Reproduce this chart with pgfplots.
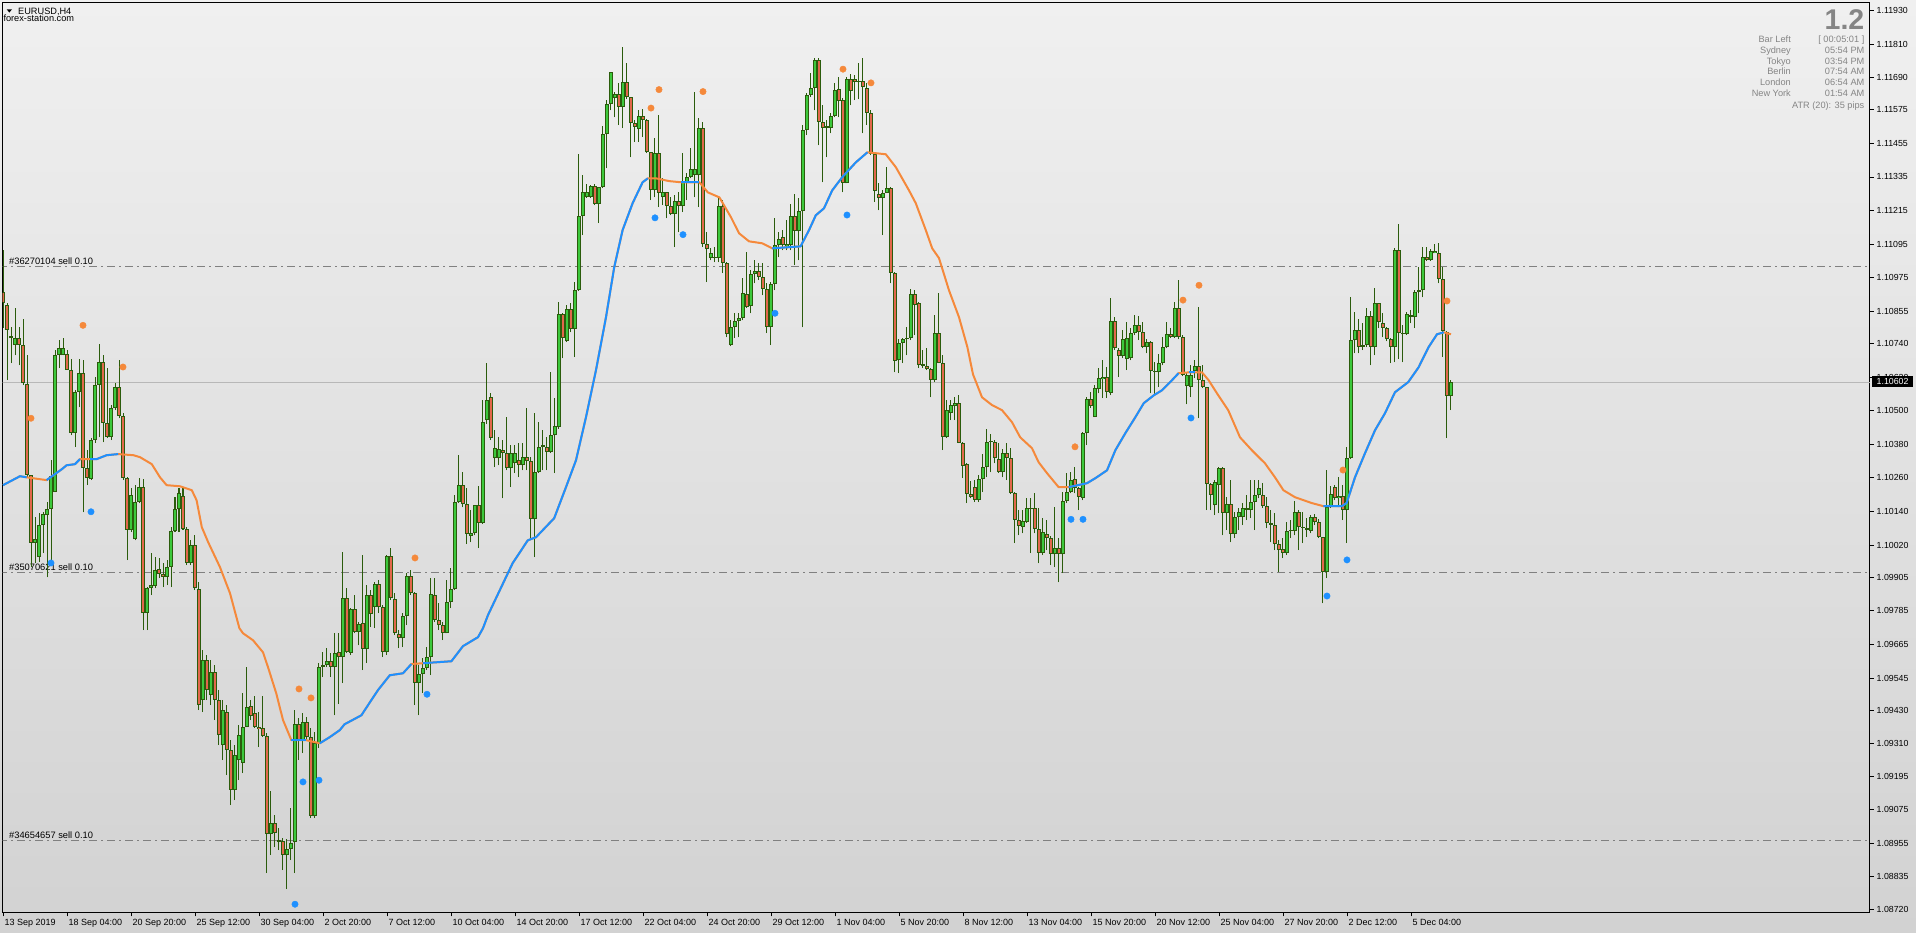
\documentclass[border=0pt]{standalone}
\usepackage{fontspec}
\setmainfont{Liberation Sans}
\usepackage{pgfplots}
\pgfplotsset{compat=1.18}
\usepackage{pgfplotstable}
\definecolor{wickc}{HTML}{2B5C0C}
\definecolor{bullc}{HTML}{3CC83C}
\definecolor{bearc}{HTML}{E2684C}
\definecolor{mablue}{HTML}{1E90FF}
\definecolor{maorange}{HTML}{F5893B}
\definecolor{bgtop}{HTML}{F0F0F0}
\definecolor{bgbot}{HTML}{D2D2D2}
\definecolor{infogray}{HTML}{858585}
\definecolor{ordergray}{HTML}{808080}
\definecolor{pricegray}{HTML}{B8B8B8}

\pgfplotstableread{
i o h l c
0 1.10923 1.11073 1.10795 1.10884
1 1.10877 1.10884 1.10609 1.10787
2 1.10759 1.10798 1.10670 1.10766
3 1.10734 1.10866 1.10698 1.10759
4 1.10759 1.10798 1.10662 1.10734
5 1.10734 1.10827 1.10591 1.10598
6 1.10595 1.10698 1.10262 1.10270
7 1.10270 1.10270 1.09941 1.10027
8 1.10027 1.10120 1.09955 1.10041
9 1.09977 1.10134 1.09959 1.10091
10 1.10091 1.10137 1.09991 1.10130
11 1.10127 1.10173 1.09905 1.10148
12 1.10148 1.10323 1.09955 1.10266
13 1.10209 1.10716 1.10209 1.10698
14 1.10698 1.10752 1.10652 1.10723
15 1.10698 1.10759 1.10698 1.10723
16 1.10702 1.10716 1.10645 1.10645
17 1.10645 1.10684 1.10412 1.10420
18 1.10420 1.10573 1.10370 1.10566
19 1.10566 1.10684 1.10512 1.10634
20 1.10634 1.10680 1.10137 1.10295
21 1.10295 1.10359 1.10234 1.10259
22 1.10255 1.10402 1.10252 1.10395
23 1.10395 1.10620 1.10384 1.10591
24 1.10591 1.10737 1.10405 1.10673
25 1.10673 1.10698 1.10387 1.10455
26 1.10455 1.10652 1.10402 1.10405
27 1.10405 1.10520 1.10395 1.10509
28 1.10509 1.10598 1.10502 1.10584
29 1.10584 1.10680 1.10473 1.10480
30 1.10480 1.10491 1.10252 1.10259
31 1.10259 1.10262 1.09966 1.10073
32 1.10073 1.10223 1.10066 1.10198
33 1.10041 1.10234 1.10037 1.10173
34 1.10173 1.10259 1.10170 1.10227
35 1.10227 1.10255 1.09716 1.09777
36 1.09777 1.09870 1.09716 1.09866
37 1.09866 1.09991 1.09841 1.09877
38 1.09873 1.09977 1.09866 1.09930
39 1.09934 1.09973 1.09902 1.09916
40 1.09916 1.09955 1.09870 1.09905
41 1.09905 1.09966 1.09877 1.09941
42 1.09941 1.10084 1.09870 1.10070
43 1.10070 1.10191 1.10066 1.10148
44 1.10148 1.10223 1.10066 1.10205
45 1.10195 1.10223 1.10073 1.10077
46 1.10077 1.10084 1.09948 1.09955
47 1.09955 1.10037 1.09948 1.10020
48 1.10020 1.10055 1.09859 1.09866
49 1.09862 1.09887 1.09430 1.09448
50 1.09466 1.09645 1.09423 1.09609
51 1.09609 1.09627 1.09466 1.09502
52 1.09484 1.09609 1.09448 1.09566
53 1.09566 1.09591 1.09395 1.09466
54 1.09466 1.09502 1.09305 1.09341
55 1.09305 1.09466 1.09252 1.09430
56 1.09423 1.09448 1.09198 1.09287
57 1.09287 1.09323 1.09091 1.09145
58 1.09145 1.09305 1.09109 1.09270
59 1.09252 1.09377 1.09180 1.09341
60 1.09241 1.09491 1.09205 1.09370
61 1.09370 1.09584 1.09370 1.09441
62 1.09445 1.09466 1.09395 1.09409
63 1.09420 1.09480 1.09366 1.09370
64 1.09370 1.09423 1.09298 1.09362
65 1.09366 1.09480 1.09334 1.09337
66 1.09337 1.09348 1.08848 1.08987
67 1.08987 1.09141 1.08912 1.09027
68 1.09027 1.09055 1.08941 1.08991
69 1.08966 1.09009 1.08930 1.08959
70 1.08962 1.08973 1.08859 1.08912
71 1.08912 1.08970 1.08791 1.08934
72 1.08934 1.09080 1.08895 1.08955
73 1.08959 1.09430 1.08848 1.09380
74 1.09380 1.09402 1.09252 1.09320
75 1.09320 1.09420 1.09277 1.09387
76 1.09387 1.09405 1.09323 1.09334
77 1.09334 1.09366 1.09045 1.09052
78 1.09052 1.09352 1.09045 1.09312
79 1.09312 1.09598 1.09295 1.09584
80 1.09584 1.09637 1.09548 1.09591
81 1.09591 1.09652 1.09584 1.09605
82 1.09605 1.09634 1.09548 1.09584
83 1.09584 1.09705 1.09412 1.09634
84 1.09637 1.09705 1.09452 1.09620
85 1.09620 1.09995 1.09527 1.09830
86 1.09830 1.09866 1.09634 1.09637
87 1.09634 1.09795 1.09627 1.09791
88 1.09791 1.09841 1.09705 1.09709
89 1.09709 1.09745 1.09662 1.09737
90 1.09741 1.09984 1.09573 1.09648
91 1.09648 1.09877 1.09598 1.09841
92 1.09841 1.09859 1.09727 1.09773
93 1.09798 1.09887 1.09723 1.09880
94 1.09880 1.09895 1.09777 1.09798
95 1.09798 1.09805 1.09620 1.09637
96 1.09637 1.09984 1.09627 1.09980
97 1.09980 1.10009 1.09823 1.09830
98 1.09827 1.09848 1.09698 1.09705
99 1.09702 1.09716 1.09652 1.09687
100 1.09687 1.09777 1.09655 1.09766
101 1.09766 1.09920 1.09734 1.09909
102 1.09909 1.09930 1.09841 1.09848
103 1.09848 1.09852 1.09448 1.09527
104 1.09527 1.09591 1.09412 1.09559
105 1.09559 1.09616 1.09491 1.09580
106 1.09580 1.09655 1.09573 1.09620
107 1.09620 1.09902 1.09555 1.09845
108 1.09841 1.09902 1.09745 1.09752
109 1.09752 1.09812 1.09716 1.09734
110 1.09734 1.09745 1.09680 1.09705
111 1.09705 1.09895 1.09705 1.09816
112 1.09816 1.09937 1.09795 1.09862
113 1.09862 1.10198 1.09859 1.10173
114 1.10173 1.10341 1.10170 1.10234
115 1.10234 1.10280 1.10155 1.10166
116 1.10166 1.10223 1.10023 1.10059
117 1.10052 1.10145 1.10030 1.10062
118 1.10062 1.10162 1.10055 1.10162
119 1.10162 1.10230 1.10009 1.10098
120 1.10098 1.10537 1.10095 1.10459
121 1.10466 1.10670 1.10452 1.10537
122 1.10548 1.10562 1.10395 1.10402
123 1.10330 1.10430 1.10298 1.10366
124 1.10330 1.10405 1.10305 1.10362
125 1.10359 1.10395 1.10187 1.10348
126 1.10348 1.10477 1.10287 1.10295
127 1.10295 1.10377 1.10227 1.10348
128 1.10312 1.10377 1.10277 1.10348
129 1.10323 1.10384 1.10262 1.10305
130 1.10305 1.10384 1.10287 1.10334
131 1.10334 1.10509 1.10287 1.10320
132 1.10320 1.10334 1.10037 1.10112
133 1.10112 1.10491 1.09977 1.10280
134 1.10280 1.10459 1.10277 1.10370
135 1.10370 1.10430 1.10287 1.10377
136 1.10370 1.10405 1.10287 1.10352
137 1.10352 1.10637 1.10348 1.10412
138 1.10412 1.10545 1.10277 1.10445
139 1.10441 1.10887 1.10434 1.10845
140 1.10845 1.10848 1.10687 1.10759
141 1.10748 1.10877 1.10745 1.10862
142 1.10862 1.10884 1.10780 1.10791
143 1.10791 1.10959 1.10691 1.10930
144 1.10930 1.11416 1.10927 1.11195
145 1.11195 1.11341 1.11127 1.11280
146 1.11262 1.11309 1.11259 1.11280
147 1.11262 1.11305 1.11259 1.11302
148 1.11302 1.11309 1.11234 1.11237
149 1.11237 1.11298 1.11170 1.11298
150 1.11298 1.11516 1.11295 1.11487
151 1.11487 1.11609 1.11366 1.11595
152 1.11595 1.11709 1.11573 1.11709
153 1.11616 1.11637 1.11548 1.11630
154 1.11630 1.11670 1.11520 1.11584
155 1.11584 1.11798 1.11509 1.11673
156 1.11673 1.11741 1.11612 1.11620
157 1.11620 1.11620 1.11405 1.11527
158 1.11527 1.11537 1.11459 1.11512
159 1.11505 1.11573 1.11459 1.11552
160 1.11552 1.11577 1.11477 1.11537
161 1.11537 1.11541 1.11420 1.11423
162 1.11423 1.11423 1.11252 1.11287
163 1.11287 1.11473 1.11262 1.11420
164 1.11420 1.11555 1.11227 1.11277
165 1.11262 1.11330 1.11234 1.11280
166 1.11280 1.11280 1.11187 1.11230
167 1.11230 1.11262 1.11198 1.11202
168 1.11202 1.11270 1.11084 1.11248
169 1.11248 1.11280 1.11137 1.11230
170 1.11230 1.11420 1.11209 1.11316
171 1.11316 1.11348 1.11252 1.11334
172 1.11334 1.11437 1.11330 1.11362
173 1.11341 1.11637 1.11262 1.11362
174 1.11341 1.11545 1.11227 1.11509
175 1.11509 1.11530 1.11084 1.11095
176 1.11095 1.11137 1.10959 1.11077
177 1.11045 1.11080 1.11037 1.11062
178 1.11045 1.11084 1.11030 1.11048
179 1.11045 1.11259 1.11030 1.11230
180 1.11230 1.11252 1.10991 1.11027
181 1.11027 1.11030 1.10762 1.10773
182 1.10734 1.10823 1.10730 1.10798
183 1.10798 1.10848 1.10759 1.10820
184 1.10820 1.10848 1.10762 1.10830
185 1.10830 1.10973 1.10823 1.10920
186 1.10916 1.11066 1.10866 1.10870
187 1.10873 1.11002 1.10848 1.10987
188 1.10987 1.11037 1.10955 1.10998
189 1.10998 1.11027 1.10966 1.10977
190 1.10977 1.11027 1.10912 1.10934
191 1.10934 1.10955 1.10777 1.10798
192 1.10798 1.10959 1.10734 1.10952
193 1.10952 1.11187 1.10930 1.11091
194 1.11091 1.11137 1.11048 1.11112
195 1.11120 1.11145 1.11073 1.11091
196 1.11087 1.11180 1.11073 1.11095
197 1.11091 1.11237 1.11073 1.11195
198 1.11195 1.11273 1.11020 1.11141
199 1.11141 1.11259 1.11037 1.11212
200 1.11212 1.11520 1.10798 1.11502
201 1.11502 1.11634 1.11484 1.11627
202 1.11627 1.11705 1.11620 1.11652
203 1.11652 1.11759 1.11573 1.11752
204 1.11752 1.11759 1.11448 1.11530
205 1.11530 1.11591 1.11316 1.11509
206 1.11509 1.11537 1.11405 1.11516
207 1.11509 1.11562 1.11491 1.11552
208 1.11552 1.11670 1.11548 1.11645
209 1.11648 1.11691 1.11548 1.11605
210 1.11609 1.11616 1.11280 1.11312
211 1.11312 1.11691 1.11312 1.11684
212 1.11684 1.11702 1.11591 1.11641
213 1.11684 1.11698 1.11609 1.11673
214 1.11673 1.11741 1.11612 1.11677
215 1.11677 1.11759 1.11491 1.11655
216 1.11652 1.11670 1.11520 1.11562
217 1.11562 1.11573 1.11412 1.11416
218 1.11416 1.11423 1.11245 1.11284
219 1.11273 1.11312 1.11216 1.11259
220 1.11259 1.11287 1.11127 1.11277
221 1.11277 1.11370 1.11277 1.11295
222 1.11295 1.11298 1.10955 1.10991
223 1.10991 1.10995 1.10637 1.10677
224 1.10680 1.10755 1.10634 1.10741
225 1.10741 1.10759 1.10670 1.10755
226 1.10755 1.10798 1.10698 1.10759
227 1.10759 1.10934 1.10752 1.10916
228 1.10916 1.10930 1.10770 1.10877
229 1.10884 1.10887 1.10652 1.10662
230 1.10666 1.10716 1.10652 1.10659
231 1.10659 1.10723 1.10645 1.10648
232 1.10648 1.10652 1.10548 1.10609
233 1.10609 1.10841 1.10602 1.10777
234 1.10777 1.10920 1.10670 1.10670
235 1.10670 1.10698 1.10359 1.10405
236 1.10405 1.10537 1.10402 1.10502
237 1.10491 1.10537 1.10466 1.10520
238 1.10516 1.10548 1.10466 1.10527
239 1.10527 1.10555 1.10384 1.10384
240 1.10384 1.10387 1.10259 1.10302
241 1.10309 1.10312 1.10170 1.10202
242 1.10202 1.10248 1.10187 1.10191
243 1.10227 1.10252 1.10173 1.10180
244 1.10180 1.10270 1.10173 1.10255
245 1.10255 1.10345 1.10209 1.10298
246 1.10298 1.10434 1.10262 1.10387
247 1.10391 1.10416 1.10280 1.10387
248 1.10387 1.10395 1.10312 1.10330
249 1.10327 1.10384 1.10277 1.10280
250 1.10280 1.10362 1.10262 1.10348
251 1.10348 1.10384 1.10252 1.10330
252 1.10330 1.10366 1.10202 1.10205
253 1.10205 1.10209 1.10027 1.10109
254 1.10109 1.10145 1.10055 1.10087
255 1.10084 1.10145 1.10062 1.10105
256 1.10102 1.10187 1.10098 1.10152
257 1.10152 1.10187 1.09991 1.10148
258 1.10152 1.10205 1.10062 1.10077
259 1.10077 1.10152 1.09955 1.09991
260 1.09991 1.10116 1.09984 1.10066
261 1.10059 1.10109 1.10002 1.10045
262 1.10045 1.10052 1.09948 1.09987
263 1.09987 1.10155 1.09941 1.10009
264 1.10009 1.10045 1.09887 1.09987
265 1.09987 1.10209 1.09920 1.10177
266 1.10177 1.10277 1.10170 1.10209
267 1.10209 1.10280 1.10205 1.10252
268 1.10255 1.10298 1.10205 1.10223
269 1.10223 1.10227 1.10145 1.10191
270 1.10187 1.10423 1.10180 1.10420
271 1.10420 1.10548 1.10377 1.10541
272 1.10541 1.10566 1.10509 1.10516
273 1.10477 1.10591 1.10477 1.10580
274 1.10577 1.10652 1.10562 1.10616
275 1.10612 1.10680 1.10545 1.10620
276 1.10620 1.10655 1.10545 1.10566
277 1.10562 1.10902 1.10555 1.10820
278 1.10820 1.10834 1.10716 1.10723
279 1.10716 1.10723 1.10620 1.10695
280 1.10695 1.10787 1.10687 1.10755
281 1.10684 1.10816 1.10645 1.10759
282 1.10687 1.10795 1.10680 1.10777
283 1.10777 1.10841 1.10770 1.10805
284 1.10805 1.10837 1.10752 1.10780
285 1.10780 1.10816 1.10723 1.10727
286 1.10727 1.10755 1.10705 1.10745
287 1.10745 1.10748 1.10562 1.10641
288 1.10641 1.10673 1.10555 1.10637
289 1.10637 1.10702 1.10584 1.10670
290 1.10670 1.10762 1.10662 1.10727
291 1.10727 1.10816 1.10723 1.10773
292 1.10773 1.10795 1.10759 1.10762
293 1.10762 1.10887 1.10759 1.10866
294 1.10866 1.10966 1.10755 1.10762
295 1.10762 1.10770 1.10623 1.10627
296 1.10587 1.10634 1.10523 1.10627
297 1.10584 1.10662 1.10548 1.10627
298 1.10641 1.10680 1.10616 1.10659
299 1.10659 1.10870 1.10473 1.10609
300 1.10609 1.10662 1.10580 1.10584
301 1.10584 1.10584 1.10145 1.10237
302 1.10237 1.10241 1.10145 1.10198
303 1.10162 1.10252 1.10127 1.10245
304 1.10234 1.10298 1.10134 1.10295
305 1.10295 1.10298 1.10055 1.10134
306 1.10134 1.10191 1.10073 1.10166
307 1.10166 1.10252 1.10030 1.10059
308 1.10059 1.10137 1.10045 1.10120
309 1.10120 1.10152 1.10073 1.10137
310 1.10120 1.10170 1.10091 1.10152
311 1.10145 1.10198 1.10109 1.10152
312 1.10145 1.10252 1.10116 1.10173
313 1.10173 1.10252 1.10073 1.10198
314 1.10198 1.10252 1.10187 1.10223
315 1.10198 1.10241 1.10152 1.10159
316 1.10159 1.10191 1.10080 1.10098
317 1.10098 1.10145 1.10030 1.10091
318 1.10091 1.10134 1.10002 1.10023
319 1.10023 1.10037 1.09923 1.10002
320 1.10005 1.10045 1.09973 1.09991
321 1.09991 1.10102 1.09984 1.10070
322 1.10070 1.10109 1.10045 1.10073
323 1.10070 1.10177 1.10055 1.10137
324 1.10137 1.10145 1.10002 1.10084
325 1.10084 1.10137 1.10027 1.10080
326 1.10073 1.10116 1.10048 1.10080
327 1.10070 1.10127 1.10062 1.10120
328 1.10120 1.10130 1.10091 1.10102
329 1.10102 1.10113 1.10045 1.10048
330 1.10048 1.10048 1.09812 1.09923
331 1.09923 1.10287 1.09902 1.10155
332 1.10155 1.10230 1.10152 1.10202
333 1.10227 1.10234 1.10180 1.10187
334 1.10187 1.10262 1.10155 1.10195
335 1.10195 1.10234 1.10109 1.10145
336 1.10145 1.10370 1.10027 1.10330
337 1.10330 1.10905 1.10327 1.10752
338 1.10752 1.10852 1.10705 1.10787
339 1.10787 1.10827 1.10705 1.10727
340 1.10727 1.10812 1.10716 1.10734
341 1.10734 1.10866 1.10727 1.10837
342 1.10837 1.10855 1.10662 1.10727
343 1.10727 1.10937 1.10698 1.10884
344 1.10884 1.10884 1.10795 1.10816
345 1.10812 1.10848 1.10762 1.10795
346 1.10795 1.10798 1.10748 1.10755
347 1.10755 1.10759 1.10670 1.10727
348 1.10727 1.11080 1.10673 1.11073
349 1.11073 1.11166 1.10684 1.10777
350 1.10773 1.10805 1.10673 1.10777
351 1.10773 1.10852 1.10770 1.10845
352 1.10834 1.10859 1.10812 1.10841
353 1.10834 1.10930 1.10795 1.10923
354 1.10923 1.11012 1.10848 1.10930
355 1.10930 1.11084 1.10905 1.11048
356 1.11048 1.11084 1.11034 1.11037
357 1.11037 1.11077 1.11034 1.11070
358 1.11062 1.11095 1.11062 1.11070
359 1.11062 1.11098 1.10955 1.10970
360 1.10970 1.11012 1.10691 1.10784
361 1.10780 1.10784 1.10402 1.10552
362 1.10552 1.10609 1.10502 1.10602
}\candles

\pgfplotstableread{
i p
0 1.10234
4.25 1.10266
5.9 1.10262
10.9 1.10252
14.7 1.10291
15.9 1.10305
18 1.10309
19.25 1.10327
21.75 1.10327
23.4 1.10327
25.9 1.10341
28.8 1.10345
32.6 1.10341
34.25 1.10334
37.2 1.10309
39.25 1.10262
40.9 1.10234
44.25 1.10230
47.2 1.10216
48.4 1.10180
49.7 1.10084
51.3 1.10030
54.25 1.09941
56.75 1.09848
59.1 1.09723
60 1.09705
62.5 1.09680
65 1.09637
66.25 1.09584
68.3 1.09491
70 1.09395
72.1 1.09323
75.8 1.09323
79.2 1.09312
81.7 1.09334
84.2 1.09359
85.4 1.09380
89.6 1.09412
91.25 1.09448
93.75 1.09502
96.7 1.09555
100 1.09562
102.1 1.09595
105 1.09598
112.1 1.09605
115 1.09659
118.75 1.09691
120 1.09723
121.25 1.09770
127.4 1.09955
131.2 1.10037
133.25 1.10048
137.8 1.10116
140.75 1.10227
143.25 1.10323
145.75 1.10477
148.25 1.10645
150.75 1.10834
152.8 1.11012
154.9 1.11145
157.4 1.11241
159.9 1.11316
161.2 1.11330
163.25 1.11330
166.6 1.11320
169.5 1.11316
174.1 1.11316
176.2 1.11280
179.1 1.11262
182 1.11191
184 1.11134
186.5 1.11105
189.8 1.11098
192.3 1.11080
199.4 1.11087
201.5 1.11145
203.2 1.11198
205.25 1.11223
207.3 1.11287
209.8 1.11334
213.2 1.11387
216.1 1.11423
220.7 1.11416
223.2 1.11370
226.5 1.11287
228.2 1.11241
230.7 1.11145
232.3 1.11080
234 1.11045
236.5 1.10930
239 1.10834
241.1 1.10727
242.5 1.10630
244.75 1.10548
247.25 1.10520
249.75 1.10502
252.25 1.10459
254.3 1.10405
257.25 1.10366
258.9 1.10316
261 1.10277
263.9 1.10227
266.4 1.10227
271 1.10241
273.1 1.10259
276 1.10287
278.1 1.10359
280.6 1.10420
283.1 1.10477
285.2 1.10527
287.7 1.10555
289.75 1.10573
292.25 1.10609
293.9 1.10634
296.5 1.10637
298 1.10637
299.75 1.10637
301.4 1.10609
303.5 1.10562
306.3 1.10502
309.25 1.10405
312.2 1.10359
315.5 1.10312
318 1.10262
320.1 1.10216
323 1.10191
327.2 1.10170
330.1 1.10159
334.7 1.10159
335.9 1.10170
338 1.10262
340.5 1.10348
343 1.10430
345.5 1.10491
348 1.10566
351.3 1.10602
353.9 1.10655
356.4 1.10727
358.5 1.10773
360.2 1.10780
362 1.10773
}\ma

\begin{document}
\begin{tikzpicture}
\useasboundingbox (0,0) rectangle (1916pt,933pt);
\shade[top color=bgtop, bottom color=bgbot] (0,0) rectangle (1916pt,933pt);
\begin{axis}[
  at={(2.5pt,20.7pt)}, anchor=south west,
  scale only axis, width=1867.5pt, height=909.6pt,
  xmin=-0.125, xmax=466.75, ymin=1.087082, ymax=1.119575,
  axis line style={black, line width=1pt},
  tick style={black, line width=0.8pt},
  tick align=outside, major tick length=4pt,
  xtick pos=left, ytick pos=right,
  xticklabel pos=left, yticklabel pos=right,
  xtick={0,16,...,352},
  xticklabels={13 Sep 2019, 18 Sep 04:00, 20 Sep 20:00, 25 Sep 12:00, 30 Sep 04:00, 2 Oct 20:00, 7 Oct 12:00, 10 Oct 04:00, 14 Oct 20:00, 17 Oct 12:00, 22 Oct 04:00, 24 Oct 20:00, 29 Oct 12:00, 1 Nov 04:00, 5 Nov 20:00, 8 Nov 12:00, 13 Nov 04:00, 15 Nov 20:00, 20 Nov 12:00, 25 Nov 04:00, 27 Nov 20:00, 2 Dec 12:00, 5 Dec 04:00},
  ytick={1.11930,1.11810,1.11690,1.11575,1.11455,1.11335,1.11215,1.11095,1.10975,1.10855,1.10740,1.10620,1.10500,1.10380,1.10260,1.10140,1.10020,1.09905,1.09785,1.09665,1.09545,1.09430,1.09310,1.09195,1.09075,1.08955,1.08835,1.08720},
  yticklabels={1.11930,1.11810,1.11690,1.11575,1.11455,1.11335,1.11215,1.11095,1.10975,1.10855,1.10740,1.10620,1.10500,1.10380,1.10260,1.10140,1.10020,1.09905,1.09785,1.09665,1.09545,1.09430,1.09310,1.09195,1.09075,1.08955,1.08835,1.08720},
  xticklabel style={font=\fontsize{9}{10}\selectfont, anchor=north west, inner sep=0pt, xshift=1.5pt, yshift=-2.5pt},
  yticklabel style={font=\fontsize{8.8}{10}\selectfont, anchor=west, inner sep=0pt, xshift=2.5pt},
  clip=true,
]
% order lines and current price line
\addplot[ordergray, line width=1pt, dash pattern=on 8pt off 4pt on 2pt off 4pt] coordinates {(-1,1.11016) (467,1.11016)};
\addplot[ordergray, line width=1pt, dash pattern=on 8pt off 4pt on 2pt off 4pt] coordinates {(-1,1.09923) (467,1.09923)};
\addplot[ordergray, line width=1pt, dash pattern=on 8pt off 4pt on 2pt off 4pt] coordinates {(-1,1.08966) (467,1.08966)};
\addplot[pricegray, line width=1pt] coordinates {(-1,1.10602) (467,1.10602)};
\node[anchor=base west, inner sep=0pt, font=\fontsize{9.3}{10}\selectfont] at (axis cs:1.5,1.11016) [yshift=2pt] {\#36270104 sell 0.10};
\node[anchor=base west, inner sep=0pt, font=\fontsize{9.3}{10}\selectfont] at (axis cs:1.5,1.09923) [yshift=2pt] {\#35070621 sell 0.10};
\node[anchor=base west, inner sep=0pt, font=\fontsize{9.3}{10}\selectfont] at (axis cs:1.5,1.08966) [yshift=2pt] {\#34654657 sell 0.10};
% wicks
\addplot[draw=wickc, line width=1pt, -, no markers, quiver={u=0, v=\thisrow{h}-\thisrow{l}}] table[x=i, y=l] {\candles};
% body outlines
\addplot[draw=wickc, line width=3.2pt, -, no markers, quiver={u=0, v=\thisrow{c}-\thisrow{o}}] table[x=i, y=o] {\candles};
% bull fills
\addplot[draw=bullc, line width=1.7pt, -, no markers,
  restrict expr to domain={\thisrow{c}-\thisrow{o}}{0.00008:1},
  quiver={u=0, v=\thisrow{c}-\thisrow{o}, every arrow/.append style={shorten <=0.9pt, shorten >=0.9pt}}] table[x=i, y=o] {\candles};
% bear fills
\addplot[draw=bearc, line width=1.7pt, -, no markers,
  restrict expr to domain={\thisrow{o}-\thisrow{c}}{0.00008:1},
  quiver={u=0, v=\thisrow{c}-\thisrow{o}, every arrow/.append style={shorten <=0.9pt, shorten >=0.9pt}}] table[x=i, y=o] {\candles};
% moving average: orange base, blue rising segments
\addplot[maorange, line width=2pt, line join=round, no markers] table[x=i, y=p] {\ma};
\addplot[mablue, line width=2pt, line join=round, no markers, restrict x to domain=-0.01:5.91] table[x=i, y=p] {\ma};
\addplot[mablue, line width=2pt, line join=round, no markers, restrict x to domain=10.89:19.26] table[x=i, y=p] {\ma};
\addplot[mablue, line width=2pt, line join=round, no markers, restrict x to domain=21.74:28.81] table[x=i, y=p] {\ma};
\addplot[mablue, line width=2pt, line join=round, no markers, restrict x to domain=72.09:75.81] table[x=i, y=p] {\ma};
\addplot[mablue, line width=2pt, line join=round, no markers, restrict x to domain=79.19:102.11] table[x=i, y=p] {\ma};
\addplot[mablue, line width=2pt, line join=round, no markers, restrict x to domain=104.99:161.21] table[x=i, y=p] {\ma};
\addplot[mablue, line width=2pt, line join=round, no markers, restrict x to domain=169.49:174.11] table[x=i, y=p] {\ma};
\addplot[mablue, line width=2pt, line join=round, no markers, restrict x to domain=192.29:216.11] table[x=i, y=p] {\ma};
\addplot[mablue, line width=2pt, line join=round, no markers, restrict x to domain=266.39:293.91] table[x=i, y=p] {\ma};
\addplot[mablue, line width=2pt, line join=round, no markers, restrict x to domain=296.49:298.01] table[x=i, y=p] {\ma};
\addplot[mablue, line width=2pt, line join=round, no markers, restrict x to domain=330.09:360.21] table[x=i, y=p] {\ma};
% signal dots
\addplot[only marks, color=maorange, mark=*, mark size=3.2pt] coordinates {
(7,1.10473) (20,1.10805) (30,1.10656) (74,1.09506) (77,1.09474) (103,1.09974)
(162,1.11581) (164,1.11647) (175,1.11640) (210,1.11720) (217,1.11671)
(268,1.10371) (295,1.10895) (299,1.10948) (335,1.10288) (361,1.10892)};
\addplot[only marks, color=mablue, mark=*, mark size=3.2pt] coordinates {
(12,1.09956) (22,1.10139) (73,1.08737) (75,1.09174) (79,1.09180) (106,1.09487)
(163,1.11189) (170,1.11129) (193,1.10848) (211,1.11199) (267,1.10112) (270,1.10112)
(297,1.10474) (331,1.09838) (336,1.09967)};
\end{axis}
% current price box
\fill[black] (1871.7pt,545.7pt) rectangle (1913.3pt,556.5pt);
\node[anchor=west, inner sep=0pt, text=white, font=\fontsize{8.8}{10}\selectfont] at (1876.5pt,551.1pt) {1.10602};
% top-left header
\fill[black] (6.7pt,923.7pt) -- (12pt,923.7pt) -- (9.35pt,920.4pt) -- cycle;
\node[anchor=base west, inner sep=0pt, font=\fontsize{9.2}{10}\selectfont] at (18pt,918.2pt) {EURUSD,H4};
\node[anchor=base west, inner sep=0pt, font=\fontsize{9.2}{10}\selectfont] at (3.3pt,911.5pt) {forex-station.com};
% top-right info panel
\node[anchor=base east, inner sep=0pt, text=infogray, font=\fontsize{28.5}{30}\selectfont\bfseries] at (1864.5pt,903.7pt) {1.2};
\begin{scope}[every node/.style={inner sep=0pt, text=infogray, font=\fontsize{9.2}{10}\selectfont}]
\node[anchor=base east] at (1791pt,890.5pt) {Bar Left};
\node[anchor=base east] at (1791pt,879.7pt) {Sydney};
\node[anchor=base east] at (1791pt,868.7pt) {Tokyo};
\node[anchor=base east] at (1791pt,858.0pt) {Berlin};
\node[anchor=base east] at (1791pt,847.3pt) {London};
\node[anchor=base east] at (1791pt,836.3pt) {New York};
\node[anchor=base east] at (1864.5pt,890.5pt) {[ 00:05:01 ]};
\node[anchor=base east] at (1864.5pt,879.7pt) {05:54 PM};
\node[anchor=base east] at (1864.5pt,868.7pt) {03:54 PM};
\node[anchor=base east] at (1864.5pt,858.0pt) {07:54 AM};
\node[anchor=base east] at (1864.5pt,847.3pt) {06:54 AM};
\node[anchor=base east] at (1864.5pt,836.3pt) {01:54 AM};
\node[anchor=base east] at (1864.5pt,824.7pt) {ATR (20): 35 pips};
\end{scope}
\end{tikzpicture}
\end{document}
